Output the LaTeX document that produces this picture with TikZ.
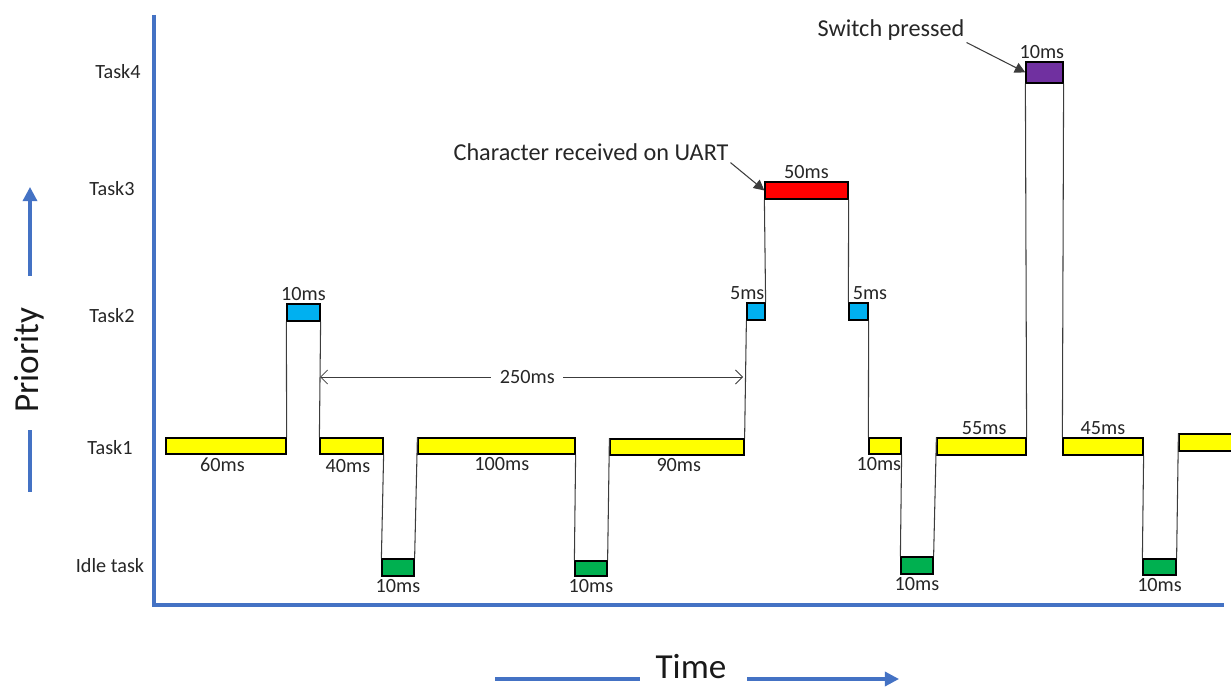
\documentclass[tikz,border=0pt]{standalone}
\usepackage{fontspec}
\setmainfont{Carlito}
\usetikzlibrary{arrows.meta,positioning,fit}
\definecolor{axisblue}{RGB}{68,114,196}
\definecolor{runyellow}{RGB}{255,255,0}
\definecolor{runcyan}{RGB}{0,176,240}
\definecolor{runred}{RGB}{255,0,0}
\definecolor{rungreen}{RGB}{0,176,80}
\definecolor{runpurple}{RGB}{112,48,160}
\definecolor{wire}{RGB}{60,60,60}
\tikzset{
  run/.style={draw=black,line width=0.7pt,inner sep=0pt},
  slotone/.style={run,fill=runyellow},
  slottwo/.style={run,fill=runcyan},
  slotthree/.style={run,fill=runred},
  slotfour/.style={run,fill=runpurple},
  slotidle/.style={run,fill=rungreen},
  lbl/.style={font=\fontsize{11.5}{13}\selectfont,inner sep=1pt,text=black!85},
  note/.style={font=\fontsize{13.8}{16}\selectfont,inner sep=1pt,text=black!85},
  big/.style={font=\fontsize{20}{24}\selectfont,inner sep=1pt,text=black!90},
  link/.style={draw=wire,line width=0.6pt},
  pointer/.style={-{Triangle[length=6pt,width=6pt]},draw=wire,line width=0.6pt},
  dim/.style={{Straight Barb[length=4pt,width=8pt]}-{Straight Barb[length=4pt,width=8pt]},draw=wire,line width=0.5pt},
  axis/.style={draw=axisblue,line width=2.3pt},
  dirarrow/.style={-{Triangle[length=8pt,width=8pt]},draw=axisblue,line width=1.8pt},
  dirline/.style={draw=axisblue,line width=1.8pt}
}

\begin{document}
\begin{tikzpicture}[x=0.02cm,y=-0.02cm]
\useasboundingbox (0,0) rectangle (1231,689);
\coordinate (ytop) at (154,15); \coordinate (origin) at (154,605); \coordinate (xend) at (1224,605);
\draw[axis] (ytop) -- (origin) -- (xend);

\node[lbl] (lv4) at (118,72) {Task4};
\node[lbl] (lv3) at (112,189) {Task3};
\node[lbl] (lv2) at (112,316) {Task2};
\node[lbl] (lv1) at (110,448) {Task1};
\node[lbl] (lv0) at (110,566) {Idle task};

\node[big,rotate=90] (prio) at (29,360) {Priority};
\coordinate (pa) at (30,276); \coordinate (pb) at (30,187);
\coordinate (pc) at (30,430); \coordinate (pd) at (30,492);
\draw[dirarrow] (pa) -- (pb); \draw[dirline] (pc) -- (pd);
\node[big] (time) at (691,667) {Time};
\coordinate (ta) at (495,679); \coordinate (tb) at (640,679);
\coordinate (tc) at (747,679); \coordinate (td) at (899,679);
\draw[dirline] (ta) -- (tb); \draw[dirarrow] (tc) -- (td);

\node[slotone,fit={(166,438) (286,454)}] (t1a) {};
\node[slottwo,fit={(287,304) (320,321)}] (t2a) {};
\node[slotone,fit={(320,438) (383,454)}] (t1b) {};
\node[slotidle,fit={(382,559) (414,576)}] (id1) {};
\node[slotone,fit={(418,438) (575,454)}] (t1c) {};
\node[slotidle,fit={(575,561) (607,576)}] (id2) {};
\node[slotone,fit={(610,439) (744,455)}] (t1d) {};
\node[slottwo,fit={(747,303) (765,320)}] (t2b) {};
\node[slotthree,fit={(765,182) (848,199)}] (t3) {};
\node[slottwo,fit={(849,303) (868,320)}] (t2c) {};
\node[slotone,fit={(869,438) (901,454)}] (t1e) {};
\node[slotidle,fit={(901,557) (933,574)}] (id3) {};
\node[slotone,fit={(937,438) (1026,455)}] (t1f) {};
\node[slotfour,fit={(1026,62) (1063,83)}] (t4) {};
\node[slotone,fit={(1063,438) (1143,455)}] (t1g) {};
\node[slotidle,fit={(1143,559) (1176,575)}] (id4) {};
\node[slotone,fit={(1179,434) (1240,451)}] (t1h) {};

\draw[link] (t1a.north east) -- (t2a.south west); \draw[link] (t2a.south east) -- (t1b.north west);
\draw[link] (t1b.south east) -- (id1.north west); \draw[link] (id1.north east) -- (t1c.north west);
\draw[link] (t1c.south east) -- (id2.north west); \draw[link] (id2.north east) -- (t1d.north west);
\draw[link] (t1d.north east) -- (t2b.south west); \draw[link] (t2b.north east) -- (t3.south west);
\draw[link] (t3.south east) -- (t2c.north west); \draw[link] (t2c.south east) -- (t1e.north west);
\draw[link] (t1e.south east) -- (id3.north west); \draw[link] (id3.north east) -- (t1f.north west);
\draw[link] (t1f.north east) -- (t4.south west); \draw[link] (t4.south east) -- (t1g.north west);
\draw[link] (t1g.south east) -- (id4.north west); \draw[link] (id4.north east) -- (t1h.north west);

\node[lbl,below=0.5pt of t1a,xshift=-2pt] {60ms};
\node[lbl,above=0.5pt of t2a] {10ms};
\node[lbl,below=1.5pt of t1b,xshift=-2pt] {40ms};
\node[lbl,below=0.5pt of id1] {10ms};
\node[lbl,below=0.5pt of t1c,xshift=3pt] {100ms};
\node[lbl,below=0.5pt of id2] {10ms};
\node[lbl,below=0.5pt of t1d,xshift=1pt] {90ms};
\node[lbl,above=0.5pt of t2b,xshift=-5pt] {5ms};
\node[lbl,above=0.5pt of t3] {50ms};
\node[lbl,above=0.5pt of t2c,xshift=6.5pt] {5ms};
\node[lbl,below=0.5pt of t1e,xshift=-3.5pt] {10ms};
\node[lbl,below=0.5pt of id3] {10ms};
\node[lbl,above=0.5pt of t1f,xshift=1.5pt] {55ms};
\node[lbl,above=0.5pt of t4,xshift=-1.5pt] {10ms};
\node[lbl,above=0.5pt of t1g] {45ms};
\node[lbl,below=0.5pt of id4] {10ms};

\coordinate (gl) at (320,377); \coordinate (gr) at (743,377);
\draw[dim] (gl) -- node[lbl,fill=white,inner sep=5pt,pos=0.49] {250ms} (gr);

\node[note] (uart) at (591,152) {Character received on UART};
\draw[pointer] (uart.south east) -- (t3.west);
\node[note] (sw) at (891,30) {Switch pressed};
\draw[pointer] (sw.south east) -- (t4.west);
\end{tikzpicture}
\end{document}
